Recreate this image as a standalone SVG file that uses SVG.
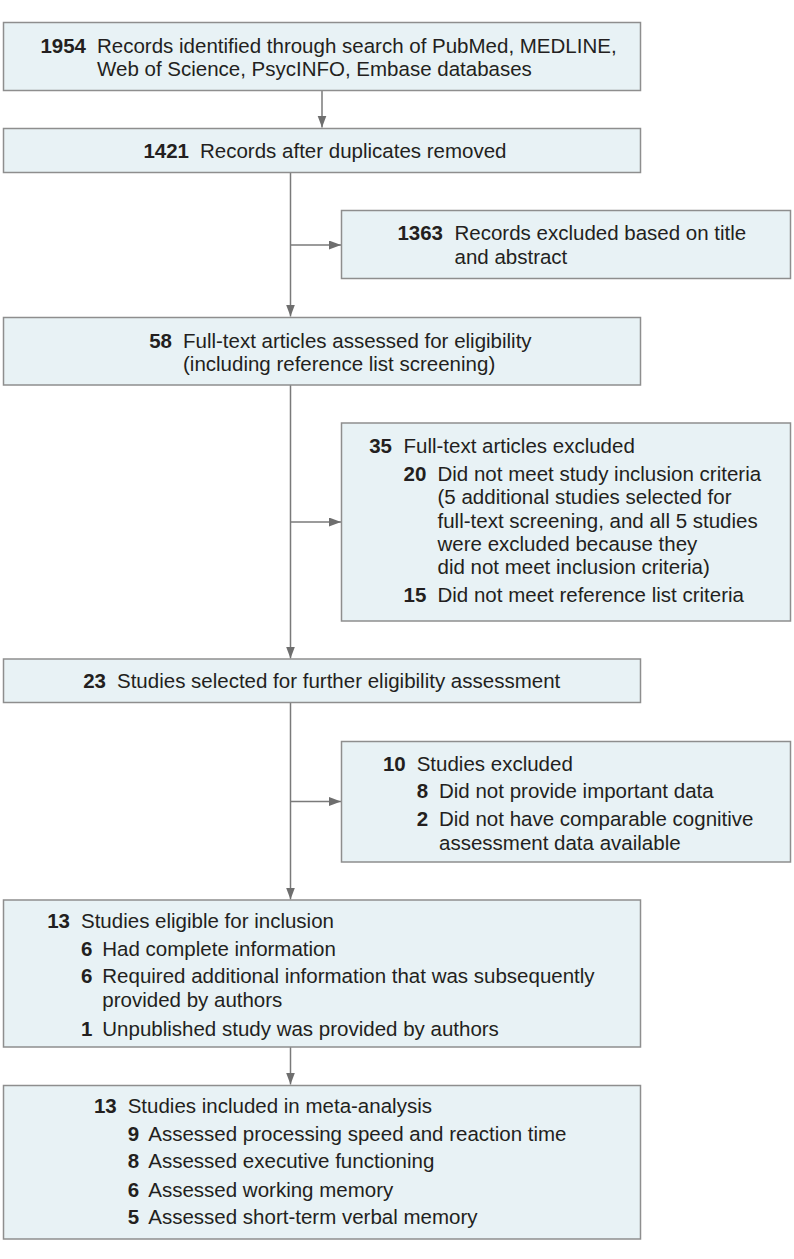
<svg xmlns="http://www.w3.org/2000/svg" width="794" height="1259" viewBox="0 0 794 1259">
<style>
.box{fill:#e8f2f5;stroke:#8e8e8e;stroke-width:1.5}
.t{font-family:"Liberation Sans",Arial,sans-serif;font-size:20.5px;fill:#231f20}
.n{font-weight:bold;text-anchor:end}
.ns{font-weight:bold}
.c{fill:none;stroke:#7a7a7a;stroke-width:1.5}
</style>
<defs>
<marker id="ah" markerUnits="userSpaceOnUse" markerWidth="12" markerHeight="10" refX="12" refY="4.5" orient="auto">
<path d="M0,0 L12,4.5 L0,9 z" fill="#6e6e6e"/>
</marker>
</defs>
<rect width="794" height="1259" fill="#ffffff"/>
<g id="connectors">
<line class="c" x1="322" y1="90.5" x2="322" y2="127.5" marker-end="url(#ah)"/>
<line class="c" x1="290.5" y1="172.5" x2="290.5" y2="316.5" marker-end="url(#ah)"/>
<line class="c" x1="290.5" y1="245" x2="341" y2="245" marker-end="url(#ah)"/>
<line class="c" x1="290.5" y1="385" x2="290.5" y2="658.5" marker-end="url(#ah)"/>
<line class="c" x1="290.5" y1="522" x2="341" y2="522" marker-end="url(#ah)"/>
<line class="c" x1="290.5" y1="702.5" x2="290.5" y2="899.5" marker-end="url(#ah)"/>
<line class="c" x1="290.5" y1="801.5" x2="341" y2="801.5" marker-end="url(#ah)"/>
<line class="c" x1="290.5" y1="1047" x2="290.5" y2="1084.5" marker-end="url(#ah)"/>
</g>
<g id="n1954">
<rect class="box" x="3.5" y="22.5" width="637" height="68"/>
<text class="t n" x="86" y="52.5">1954</text>
<text class="t" x="97" y="52.5">Records identified through search of PubMed, MEDLINE,</text>
<text class="t" x="97" y="76">Web of Science, PsycINFO, Embase databases</text>
</g>
<g id="n1421">
<rect class="box" x="3.5" y="128.5" width="637" height="44"/>
<text class="t n" x="189" y="157.5">1421</text>
<text class="t" x="200" y="157.5">Records after duplicates removed</text>
</g>
<g id="n1363">
<rect class="box" x="341.5" y="210.5" width="449" height="68"/>
<text class="t n" x="443" y="240">1363</text>
<text class="t" x="454.5" y="240">Records excluded based on title</text>
<text class="t" x="454.5" y="263.5">and abstract</text>
</g>
<g id="n58">
<rect class="box" x="3.5" y="317.5" width="637" height="67.5"/>
<text class="t n" x="172" y="347.5">58</text>
<text class="t" x="183" y="347.5">Full-text articles assessed for eligibility</text>
<text class="t" x="183" y="371">(including reference list screening)</text>
</g>
<g id="n35">
<rect class="box" x="341.5" y="423" width="449" height="198"/>
<text class="t n" x="392" y="453.3">35</text>
<text class="t" x="403.5" y="453.3">Full-text articles excluded</text>
<text class="t ns" x="403.5" y="481">20</text>
<text class="t" x="437.5" y="481">Did not meet study inclusion criteria</text>
<text class="t" x="437.5" y="504.3">(5 additional studies selected for</text>
<text class="t" x="437.5" y="527.7">full-text screening, and all 5 studies</text>
<text class="t" x="437.5" y="551">were excluded because they</text>
<text class="t" x="437.5" y="574.3">did not meet inclusion criteria)</text>
<text class="t ns" x="403.5" y="602">15</text>
<text class="t" x="437.5" y="602">Did not meet reference list criteria</text>
</g>
<g id="n23">
<rect class="box" x="3.5" y="659" width="637" height="43.5"/>
<text class="t n" x="106" y="688.3">23</text>
<text class="t" x="117" y="688.3">Studies selected for further eligibility assessment</text>
</g>
<g id="n10">
<rect class="box" x="341.5" y="741.5" width="449" height="120.5"/>
<text class="t n" x="405.7" y="770.7">10</text>
<text class="t" x="416.7" y="770.7">Studies excluded</text>
<text class="t ns" x="416.7" y="798.3">8</text>
<text class="t" x="439" y="798.3">Did not provide important data</text>
<text class="t ns" x="416.7" y="826">2</text>
<text class="t" x="439" y="826">Did not have comparable cognitive</text>
<text class="t" x="439" y="850">assessment data available</text>
</g>
<g id="n13a">
<rect class="box" x="3.5" y="900" width="637" height="147"/>
<text class="t n" x="70" y="927.7">13</text>
<text class="t" x="81" y="927.7">Studies eligible for inclusion</text>
<text class="t ns" x="81" y="955.7">6</text>
<text class="t" x="102.3" y="955.7">Had complete information</text>
<text class="t ns" x="81" y="983.3">6</text>
<text class="t" x="102.3" y="983.3">Required additional information that was subsequently</text>
<text class="t" x="102.3" y="1007.3">provided by authors</text>
<text class="t ns" x="81" y="1035.7">1</text>
<text class="t" x="102.3" y="1035.7">Unpublished study was provided by authors</text>
</g>
<g id="n13b">
<rect class="box" x="3.5" y="1085.5" width="637" height="153.5"/>
<text class="t n" x="116.7" y="1113.3">13</text>
<text class="t" x="127.7" y="1113.3">Studies included in meta-analysis</text>
<text class="t ns" x="127.7" y="1141">9</text>
<text class="t" x="148.3" y="1141">Assessed processing speed and reaction time</text>
<text class="t ns" x="127.7" y="1168.3">8</text>
<text class="t" x="148.3" y="1168.3">Assessed executive functioning</text>
<text class="t ns" x="127.7" y="1196.7">6</text>
<text class="t" x="148.3" y="1196.7">Assessed working memory</text>
<text class="t ns" x="127.7" y="1224.3">5</text>
<text class="t" x="148.3" y="1224.3">Assessed short-term verbal memory</text>
</g>
</svg>
